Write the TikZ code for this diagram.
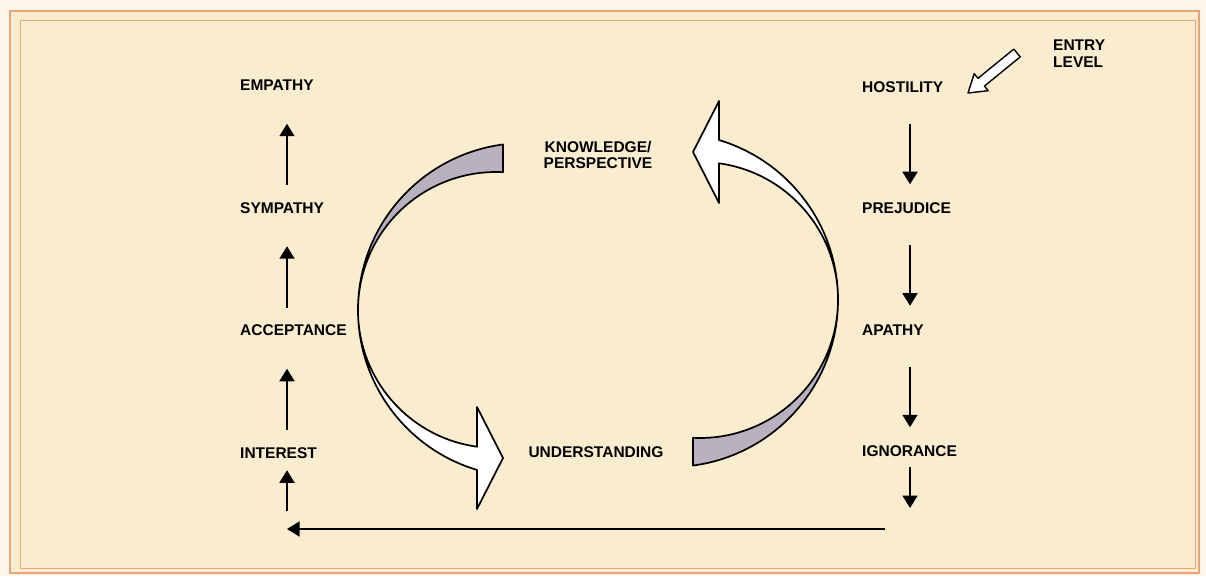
\documentclass[tikz,border=0pt]{standalone}
\usepackage{fontspec}
\setmainfont{Liberation Sans}
\usetikzlibrary{arrows.meta}
\definecolor{paper}{RGB}{250,236,207}
\definecolor{margin}{RGB}{253,247,234}
\definecolor{frame}{RGB}{238,164,122}
\definecolor{ribbonback}{RGB}{184,178,192}

% one half of the cycle: grey back face, then the white face ending in a broad arrow head
\newcommand{\halfcycle}{%
  \filldraw[ribbon, fill=ribbonback] (503,431.55)
     arc[start angle=97.57, end angle=180, radius=167]
     arc[start angle=180, end angle=87.1, radius=138] -- cycle;
  \filldraw[ribbon, fill=white] (358,266)
     arc[start angle=180, end angle=253.3, radius=167]
     -- (477,67) -- (503,118) -- (477,169) -- (477,129.3)
     arc[start angle=262.1, end angle=180, radius=138] -- cycle;
}

\begin{document}
\begin{tikzpicture}[x=1pt,y=1pt,
  label/.style={font=\fontsize{15.5}{16}\selectfont\bfseries, inner sep=0pt,
                text height=11.1pt, text depth=0pt},
  caption/.style={font=\fontsize{15.5}{16.5}\selectfont\bfseries, inner sep=0pt},
  stage/.style={label, anchor=west},
  flow/.style={line width=1.7pt, -{Triangle[length=12.5pt,width=15pt]}},
  ribbon/.style={line width=1.7pt, line join=round},
]
% paper and frame
\fill[margin] (0,0) rectangle (1206,576);
\useasboundingbox (0,0) rectangle (1206,576);
\fill[paper] (10,3) rectangle (1199,565);
\draw[frame, line width=2.8pt] (10,3) rectangle (1199,565);
\draw[frame, line width=0.9pt] (20,8) rectangle (1195,556);

% the two curved arrows of the cycle
\halfcycle
\begin{scope}[rotate around={180:(598,271)}]
  \halfcycle
\end{scope}

% left column (rising)
\node[stage] (empathy)    at (240,491)   {EMPATHY};
\node[stage] (sympathy)   at (240,368.5) {SYMPATHY};
\node[stage] (acceptance) at (240,246)   {ACCEPTANCE};
\node[stage] (interest)   at (240,123.5) {INTEREST};

% right column (falling)
\node[stage] (hostility)  at (862,489.5) {HOSTILITY};
\node[stage] (prejudice)  at (862,368)   {PREJUDICE};
\node[stage] (apathy)     at (862,246.5) {APATHY};
\node[stage] (ignorance)  at (862,125)   {IGNORANCE};

% centre
\node[caption, align=center] (knowledge) at (598,421) {KNOWLEDGE/\\PERSPECTIVE};
\node[label] (understanding) at (596,124) {UNDERSTANDING};

% entry point
\node[caption, align=left, anchor=west] (entry) at (1053,522.5) {ENTRY\\LEVEL};
\filldraw[ribbon, fill=white, line width=1.4pt]
  (1020.2,519.1) -- (984.4,489.9) -- (988.2,485.3) -- (968,483)
  -- (974.2,502.3) -- (978,497.7) -- (1013.8,526.9) -- cycle;

% return path along the bottom
\coordinate (cornerR) at (910,47);
\coordinate (cornerL) at (287,47);

\draw[flow, shorten <=16.5pt, shorten >=33pt] (sympathy.north -| cornerL) -- (empathy.south -| cornerL);
\draw[flow, shorten <=16.5pt, shorten >=33pt] (acceptance.north -| cornerL) -- (sympathy.south -| cornerL);
\draw[flow, shorten <=16.5pt, shorten >=33pt] (interest.north -| cornerL) -- (acceptance.south -| cornerL);
\draw[flow, shorten <=18pt, shorten >=12pt] (cornerL) -- (interest.south -| cornerL);

\draw[flow, shorten <=31.5pt, shorten >=18pt] (hostility.south -| cornerR) -- (prejudice.north -| cornerR);
\draw[flow, shorten <=31.5pt, shorten >=18pt] (prejudice.south -| cornerR) -- (apathy.north -| cornerR);
\draw[flow, shorten <=31.5pt, shorten >=18pt] (apathy.south -| cornerR) -- (ignorance.north -| cornerR);
\draw[flow, shorten <=10.5pt, shorten >=21pt] (ignorance.south -| cornerR) -- (cornerR);

\draw[flow, line width=1.4pt, shorten <=25pt] (cornerR) -- (cornerL);
\end{tikzpicture}
\end{document}
